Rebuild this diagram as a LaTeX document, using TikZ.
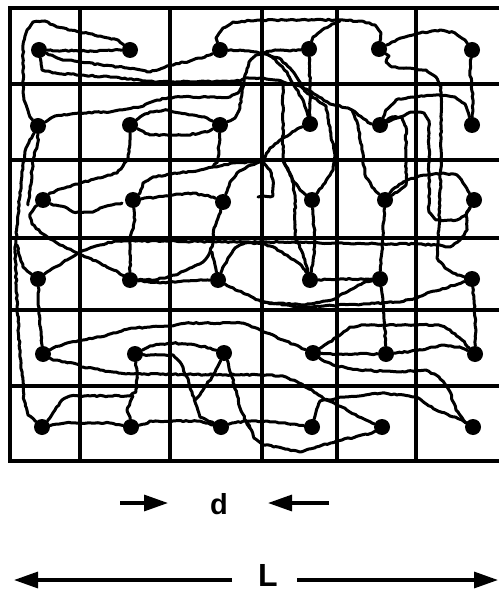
\documentclass[tikz,border=0pt]{standalone}
\usepackage{fontspec}
\setmainfont{Liberation Sans}
\usetikzlibrary{decorations.pathmorphing,arrows.meta}
\begin{document}
\begin{tikzpicture}[x=1pt,y=-1pt,
  gridline/.style={line width=3.2pt},
  border/.style={line width=3.8pt},
  wig/.style={line width=3pt,line join=round,line cap=round,decorate,
    decoration={random steps,segment length=3pt,amplitude=0.7pt}},
  dot/.style={circle,fill=black,inner sep=0pt,minimum size=16pt},
  arr/.style={line width=3.2pt,-{Triangle[length=24pt,width=16pt]}},
  lab/.style={inner sep=0pt}]
\pgfmathsetseed{11}
\useasboundingbox (0,0) rectangle (499,593);
% grid
\foreach \x in {80,170,262,337,416} \draw[gridline] (\x,8) -- (\x,461);
\foreach \y in {84,160,238,310,386} \draw[gridline] (10,\y) -- (499,\y);
\draw[border] (499,8) -- (10,8) -- (10,461) -- (499,461);
% dots
\node[dot] (d11) at (39,50) {};  \node[dot] (d12) at (130,50) {}; \node[dot] (d13) at (220,50) {};
\node[dot] (d14) at (309,49) {}; \node[dot] (d15) at (379,49) {}; \node[dot] (d16) at (472,50) {};
\node[dot] (d21) at (38,126) {}; \node[dot] (d22) at (130,125) {}; \node[dot] (d23) at (220,125) {};
\node[dot] (d24) at (310,124) {}; \node[dot] (d25) at (380,125) {}; \node[dot] (d26) at (472,125) {};
\node[dot] (d31) at (43,200) {}; \node[dot] (d32) at (133,200) {}; \node[dot] (d33) at (223,202) {};
\node[dot] (d34) at (312,200) {}; \node[dot] (d35) at (385,200) {}; \node[dot] (d36) at (474,200) {};
\node[dot] (d41) at (38,279) {}; \node[dot] (d42) at (130,280) {}; \node[dot] (d43) at (218,280) {};
\node[dot] (d44) at (310,280) {}; \node[dot] (d45) at (380,279) {}; \node[dot] (d46) at (472,279) {};
\node[dot] (d51) at (43,354) {}; \node[dot] (d52) at (135,354) {}; \node[dot] (d53) at (224,353) {};
\node[dot] (d54) at (313,353) {}; \node[dot] (d55) at (386,354) {}; \node[dot] (d56) at (475,354) {};
\node[dot] (d61) at (42,427) {}; \node[dot] (d62) at (131,427) {}; \node[dot] (d63) at (221,427) {};
\node[dot] (d64) at (312,427) {}; \node[dot] (d65) at (382,427) {}; \node[dot] (d66) at (473,427) {};
% junction points
\coordinate (j1) at (262,53);
\coordinate (j2) at (283,82);
\coordinate (j3) at (262,161);
\coordinate (j4) at (283,160);
\coordinate (j5) at (352,110);
\coordinate (j6) at (213,167);
\coordinate (j7) at (262,302);
\coordinate (j8) at (246,421);
% row 1
\draw[wig] (d21) -- (30,117) -- (24,100) -- (23,70) -- (23,45) -- (27,30) -- (33,22) -- (45,21) -- (57,27) -- (80,32) -- (100,36) -- (118,40) -- (d12);
\draw[wig] (d11) -- (85,51) -- (d12);
\draw[wig] (d11) -- (60,59) -- (80,62) -- (127,68) -- (150,72) -- (167,66) -- (190,61) -- (210,55) -- (d13);
\draw[wig] (d11) -- (41,62) -- (42,70) -- (53,73) -- (80,75) -- (110,77) -- (140,80) -- (157,82) -- (240,81) -- (245,78) -- (263,78) -- (277,80) -- (j2) -- (283,86) -- (j4) -- (290,175) -- (300,190) -- (d34);
\draw[wig] (d13) -- (216,38) -- (223,28) -- (233,22) -- (260,20) -- (335,20) -- (360,21) -- (375,25) -- (381,33) -- (d15);
\draw[wig] (d14) -- (313,37) -- (322,30) -- (332,24) -- (340,21);
\draw[wig] (d13) -- (245,51) -- (j1) -- (275,50) -- (290,51) -- (d14);
\draw[wig] (j1) -- (279,58) -- (290,68) -- (306,92) -- (326,106) -- (330,130) -- (335,155) -- (333,170) -- (325,183) -- (d34);
\draw[wig] (d14) -- (310,80) -- (d24);
\draw[wig] (d15) -- (392,42) -- (405,37) -- (420,33) -- (440,30) -- (455,33) -- (465,40) -- (d16);
\draw[wig] (d15) -- (389,56) -- (386,62) -- (392,67) -- (406,68) -- (426,70) -- (436,77) -- (441,87) -- (441,160) -- (440,200) -- (438,243) -- (437,258) -- (445,268) -- (457,275) -- (d46);
\draw[wig] (d16) -- (470,70) -- (473,100) -- (d26);
% row 2
\draw[wig] (d25) -- (386,110) -- (396,100) -- (412,97) -- (436,95) -- (455,97) -- (465,104) -- (d26);
\draw[wig] (d23) -- (235,118) -- (240,108) -- (242,90) -- (245,75) -- (249,62) -- (256,55) -- (266,54) -- (273,58) -- (280,65) -- (287,72) -- (293,84) -- (303,100) -- (307,112) -- (d24);
\draw[wig] (d21) -- (47,121) -- (55,116) -- (80,113) -- (110,112) -- (140,107) -- (157,100) -- (175,97) -- (230,97) -- (238,93) -- (243,83);
\draw[wig] (d22) -- (140,117) -- (150,112) -- (167,110) -- (180,113) -- (193,115) -- (207,118) -- (d23);
\draw[wig] (d22) -- (140,130) -- (150,135) -- (167,135) -- (187,135) -- (207,132) -- (d23);
\draw[wig] (d31) -- (50,193) -- (67,187) -- (80,183) -- (100,178) -- (117,173) -- (123,166) -- (128,158) -- (130,140) -- (d22);
\draw[wig] (d23) -- (219,145) -- (218,160) -- (j6);
\draw[wig] (d32) -- (140,193) -- (143,183) -- (153,177) -- (180,173) -- (200,170) -- (j6) -- (233,163) -- (j3) -- (270,148) -- (285,137) -- (299,128) -- (d24);
\draw[wig] (j2) -- (292,84) -- (306,89) -- (319,97) -- (330,104) -- (348,108) -- (j5) -- (358,115) -- (370,123) -- (d25);
\draw[wig] (j5) -- (358,125) -- (362,150) -- (365,175) -- (372,187) -- (d35);
\draw[wig] (d25) -- (392,117) -- (402,117) -- (406,127) -- (406,185) -- (400,190) -- (d35);
\draw[wig] (d25) -- (412,112) -- (424,113) -- (429,121) -- (429,212) -- (436,220) -- (457,220) -- (466,215) -- (d36);
% row 3
\draw[wig] (d31) -- (53,205) -- (67,208) -- (73,212) -- (93,212) -- (100,208) -- (122,203);
\draw[wig] (d31) -- (35,207) -- (30,214) -- (32,224) -- (43,234) -- (57,243) -- (77,253) -- (100,263) -- (118,272) -- (d42);
\draw[wig] (d32) -- (157,197) -- (173,195) -- (193,193) -- (213,197) -- (d33);
\draw[wig] (d32) -- (135,220) -- (131,234) -- (130,250) -- (d42);
\draw[wig] (d33) -- (230,182) -- (237,173) -- (248,166) -- (j3);
\draw[wig] (j3) -- (270,170) -- (273,180) -- (273,196) -- (258,197);
\draw[wig] (d33) -- (219,215) -- (214,228) -- (213,243) -- (210,252) -- (203,262) -- (190,268) -- (175,275) -- (155,280) -- (d42);
\draw[wig] (j4) -- (292,178) -- (295,195) -- (295,237) -- (303,254) -- (d44);
\draw[wig] (d34) -- (313,215) -- (315,240) -- (313,262) -- (d44);
\draw[wig] (d35) -- (392,190) -- (403,182) -- (417,177) -- (427,175) -- (443,173) -- (457,175) -- (463,183) -- (d36);
\draw[wig] (d35) -- (383,230) -- (d45);
\draw[wig] (d41) -- (47,272) -- (67,260) -- (80,252) -- (100,245) -- (115,241) -- (150,241) -- (249,242) -- (282,242) -- (382,244) -- (416,244) -- (437,245) -- (450,247) -- (460,240) -- (467,230) -- (466,215) -- (d36);
% left edge
\draw[wig] (d21) -- (33,135) -- (26,148) -- (22,175) -- (18,215) -- (15,250) -- (17,300) -- (20,357) -- (23,380) -- (24,400) -- (28,415) -- (d61);
\draw[wig] (d21) -- (38,142) -- (33,160) -- (30,190) -- (28,205);
\draw[wig] (d41) -- (30,273) -- (23,267) -- (20,257) -- (17,245);
% row 4
\draw[wig] (d42) -- (160,283) -- (183,281) -- (d43);
\draw[wig] (d43) -- (215,265) -- (212,252);
\draw[wig] (d43) -- (222,270) -- (228,258) -- (235,248) -- (245,243) -- (262,243) -- (270,246) -- (282,252) -- (297,262) -- (305,270) -- (d44);
\draw[wig] (d43) -- (230,287) -- (245,294) -- (j7) -- (302,305) -- (332,300) -- (350,290) -- (363,283) -- (d45);
\draw[wig] (j7) -- (302,307) -- (363,304) -- (397,302) -- (417,298) -- (427,293) -- (440,290) -- (463,282) -- (d46);
\draw[wig] (d44) -- (340,279) -- (d45);
\draw[wig] (d41) -- (39,310) -- (41,335) -- (d51);
\draw[wig] (d45) -- (383,300) -- (385,330) -- (d55);
\draw[wig] (d46) -- (474,300) -- (476,330) -- (d56);
% row 5
\draw[wig] (d51) -- (53,348) -- (67,343) -- (80,340) -- (100,337) -- (113,333) -- (133,328) -- (150,327) -- (170,326) -- (190,323) -- (243,323) -- (252,327) -- (267,333) -- (283,340) -- (300,347) -- (d54);
\draw[wig] (d51) -- (53,360) -- (73,363) -- (83,367) -- (100,370) -- (113,372) -- (133,374) -- (260,375) -- (283,376) -- (299,383) -- (316,393) -- (326,400) -- (342,407) -- (359,417) -- (372,423) -- (d65);
\draw[wig] (d52) -- (150,346) -- (170,343) -- (190,344) -- (210,348) -- (d53);
\draw[wig] (d52) -- (150,355) -- (173,355) -- (180,362) -- (187,377) -- (192,392) -- (197,407) -- (200,417) -- (212,422) -- (d63);
\draw[wig] (d53) -- (220,362) -- (212,377) -- (203,390) -- (195,400);
\draw[wig] (d53) -- (228,362) -- (232,377) -- (237,395) -- (240,408) -- (j8) -- (250,428);
\draw[wig] (d52) -- (137,375) -- (136,392) -- (130,396) -- (70,396) -- (62,400) -- (55,410) -- (48,420) -- (d61);
\draw[wig] (d62) -- (130,417) -- (127,410) -- (131,400) -- (133,396);
\draw[wig] (d54) -- (340,354) -- (d55);
\draw[wig] (d54) -- (322,347) -- (337,337) -- (350,327) -- (366,325) -- (399,325) -- (439,325) -- (450,330) -- (462,340) -- (d56);
\draw[wig] (d55) -- (396,353) -- (422,350) -- (442,345) -- (462,348) -- (d56);
\draw[wig] (d54) -- (322,360) -- (336,366) -- (359,370) -- (399,372) -- (426,370) -- (439,377) -- (449,390) -- (456,410) -- (465,422) -- (d66);
% row 6
\draw[wig] (d61) -- (65,423) -- (110,423) -- (d62);
\draw[wig] (d62) -- (145,424) -- (150,421) -- (200,421) -- (213,425) -- (d63);
\draw[wig] (d63) -- (232,423) -- (j8) -- (267,421) -- (293,424) -- (d64);
\draw[wig] (j8) -- (250,428) -- (254,438) -- (262,444) -- (282,448) -- (300,452) -- (316,447) -- (342,440) -- (372,433) -- (d65);
\draw[wig] (d64) -- (316,412) -- (320,401) -- (345,397) -- (382,393) -- (416,397) -- (436,410) -- (462,420) -- (d66);
% scale labels
\node[lab,anchor=base,font=\bfseries\fontsize{29}{29}\selectfont] (dlab) at (219,514) {d};
\coordinate (da1) at (120,503); \coordinate (da2) at (168,503);
\coordinate (db1) at (329,503); \coordinate (db2) at (268,503);
\draw[arr] (da1) -- (da2);
\draw[arr] (db1) -- (db2);
\node[lab,anchor=base,font=\bfseries\fontsize{32}{32}\selectfont] (Llab) at (268,586) {L};
\coordinate (la1) at (232,580); \coordinate (la2) at (14,580);
\coordinate (lb1) at (297,580); \coordinate (lb2) at (498,580);
\draw[arr] (la1) -- (la2);
\draw[arr] (lb1) -- (lb2);
\end{tikzpicture}
\end{document}
